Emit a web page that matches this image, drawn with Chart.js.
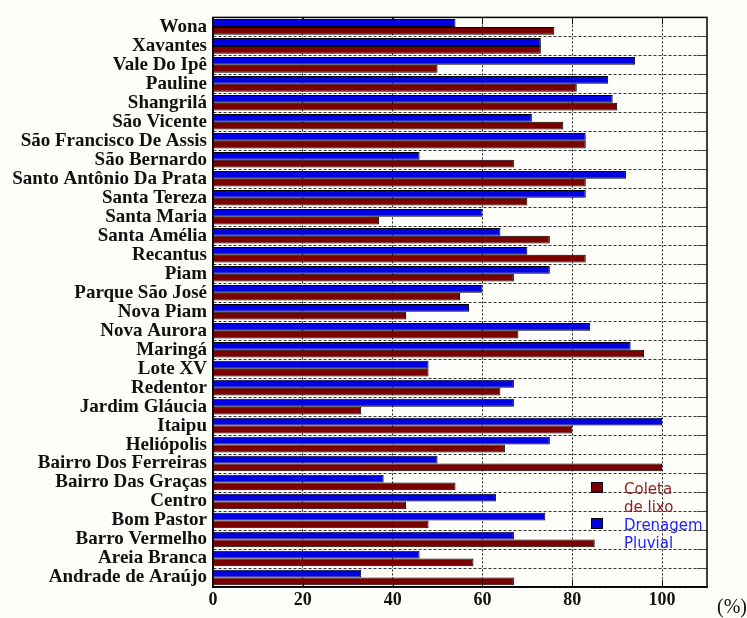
<!DOCTYPE html>
<html>
<head>
<meta charset="utf-8">
<script src="https://cdn.jsdelivr.net/npm/chart.js@4/dist/chart.umd.min.js"></script>
<style>
  html, body { margin: 0; padding: 0; background: #fdfdf9; }
  #wrap { width: 747px; height: 618px; }
</style>
</head>
<body>
<div id="wrap"><canvas id="c" width="747" height="618"></canvas></div>
<script>
// Neighbourhoods, top to bottom
const categories = [
  'Wona', 'Xavantes', 'Vale Do Ipê', 'Pauline', 'Shangrilá', 'São Vicente',
  'São Francisco De Assis', 'São Bernardo', 'Santo Antônio Da Prata', 'Santa Tereza',
  'Santa Maria', 'Santa Amélia', 'Recantus', 'Piam', 'Parque São José', 'Nova Piam',
  'Nova Aurora', 'Maringá', 'Lote XV', 'Redentor', 'Jardim Gláucia', 'Itaipu',
  'Heliópolis', 'Bairro Dos Ferreiras', 'Bairro Das Graças', 'Centro', 'Bom Pastor',
  'Barro Vermelho', 'Areia Branca', 'Andrade de Araújo'
];

// Coverage (%) of storm drainage
const drenagemPluvial = [54, 73, 94, 88, 89, 71, 83, 46, 92, 83, 60, 64, 70, 75, 60,
                         57, 84, 93, 48, 67, 67, 100, 75, 50, 38, 63, 74, 67, 46, 33];
// Coverage (%) of garbage collection
const coletaDeLixo = [76, 73, 50, 81, 90, 78, 83, 67, 83, 70, 37, 75, 83, 67, 55,
                      43, 68, 96, 48, 64, 33, 80, 65, 100, 54, 43, 48, 85, 58, 67];

// Axis ticks
const xTicks = [0, 20, 40, 60, 80, 100];
const xMax = 110;

const seriesNames = { coleta: ['Coleta', 'de lixo'], drenagem: ['Drenagem', 'Pluvial'] };

const BLUE = '#0000e2';
const RED = '#7a0000';

// Frame, inner tick marks, unit label and the in-plot legend
const decorPlugin = {
  id: 'decor',
  afterDatasetsDraw(chart) {
    const { ctx, chartArea: a, scales } = chart;
    ctx.save();
    // inward ticks on the top and bottom edges at each x tick
    ctx.strokeStyle = '#111';
    ctx.lineWidth = 1;
    xTicks.forEach(v => {
      if (v === 0) return;
      const x = Math.round(scales.x.getPixelForValue(v)) + 0.5;
      ctx.beginPath(); ctx.moveTo(x, a.top); ctx.lineTo(x, a.top + 7); ctx.stroke();
      ctx.beginPath(); ctx.moveTo(x, a.bottom); ctx.lineTo(x, a.bottom - 7); ctx.stroke();
    });
    // inward ticks on the right edge at category boundaries
    ctx.strokeStyle = '#444';
    const n = categories.length;
    for (let i = 1; i < n; i++) {
      const y = Math.round((scales.y.getPixelForValue(i - 1) + scales.y.getPixelForValue(i)) / 2) + 0.5;
      ctx.beginPath(); ctx.moveTo(a.right, y); ctx.lineTo(a.right - 10, y); ctx.stroke();
    }
    // frame
    ctx.strokeStyle = '#000';
    ctx.lineWidth = 1.5;
    ctx.strokeRect(a.left, a.top, a.right - a.left, a.bottom - a.top);
    ctx.restore();
  },
  afterDraw(chart) {
    const { ctx } = chart;
    ctx.save();
    // unit label
    ctx.fillStyle = '#111';
    ctx.font = '20px "Liberation Serif", serif';
    ctx.textBaseline = 'alphabetic';
    ctx.textAlign = 'left';
    ctx.fillText('(%)', 717, 613);

    // legend
    const entries = [
      { lines: seriesNames.coleta, fill: RED, text: '#8e1f1f', y: 482 },
      { lines: seriesNames.drenagem, fill: BLUE, text: '#2323ff', y: 518 }
    ];
    ctx.font = '15px "DejaVu Sans", sans-serif';
    entries.forEach(e => {
      ctx.fillStyle = e.fill;
      ctx.fillRect(591, e.y, 12, 11);
      ctx.strokeStyle = '#000';
      ctx.lineWidth = 1;
      ctx.strokeRect(591.5, e.y + 0.5, 11, 10);
      ctx.fillStyle = e.text;
      e.lines.forEach((t, k) => ctx.fillText(t, 624, e.y + 12 + k * 18));
    });
    ctx.restore();
  }
};

new Chart(document.getElementById('c'), {
  type: 'bar',
  data: {
    labels: categories,
    datasets: [
      {
        label: 'Drenagem Pluvial',
        data: drenagemPluvial,
        backgroundColor: BLUE,
        borderColor: '#000',
        borderWidth: 1,
        categoryPercentage: 0.82,
        barPercentage: 1.0
      },
      {
        label: 'Coleta de lixo',
        data: coletaDeLixo,
        backgroundColor: RED,
        borderColor: '#000',
        borderWidth: 1,
        categoryPercentage: 0.82,
        barPercentage: 1.0
      }
    ]
  },
  options: {
    indexAxis: 'y',
    responsive: false,
    animation: false,
    layout: { padding: { left: 0, right: 40, top: 10, bottom: 0 } },
    plugins: {
      legend: { display: false },
      tooltip: { enabled: false }
    },
    scales: {
      x: {
        type: 'linear',
        min: 0,
        max: xMax,
        afterBuildTicks(scale) {
          scale.ticks = xTicks.map(v => ({ value: v }));
        },
        afterFit(scale) { scale.height = 31; },
        grid: {
          color: '#222',
          lineWidth: 1,
          drawTicks: false
        },
        border: { display: true, color: '#000', width: 1.5, dash: [2, 2] },
        ticks: {
          padding: 3,
          color: '#111',
          font: { family: '"Liberation Serif", serif', size: 18, weight: 'bold' }
        }
      },
      y: {
        type: 'category',
        afterFit(scale) { scale.width = 213; },
        grid: {
          color: '#333',
          lineWidth: 1,
          drawTicks: false,
          offset: true
        },
        border: { display: true, color: '#000', width: 1.5, dash: [3, 2] },
        ticks: {
          autoSkip: false,
          padding: 6,
          color: '#111',
          font: { family: '"Liberation Serif", serif', size: 19, weight: 'bold' }
        }
      }
    }
  },
  plugins: [decorPlugin]
});
</script>
</body>
</html>
